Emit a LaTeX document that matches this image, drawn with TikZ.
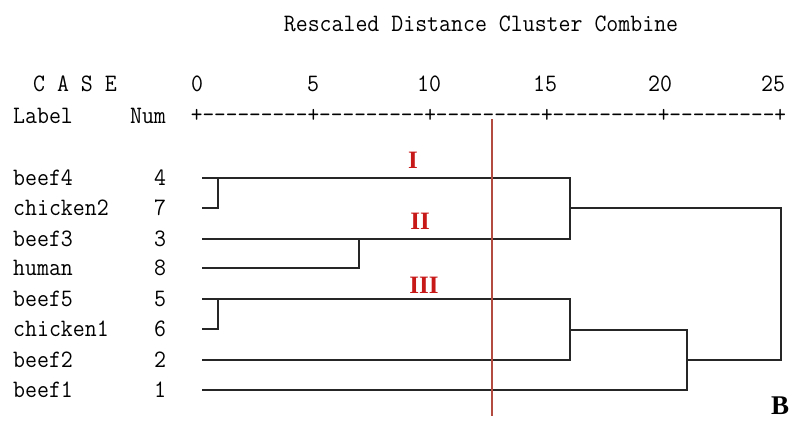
\documentclass[tikz,border=0pt]{standalone}
\usepackage{fontspec}
\setmainfont{Liberation Serif}
\definecolor{cutred}{RGB}{180,75,65}
\definecolor{grpred}{RGB}{200,25,25}
\begin{document}
\begin{tikzpicture}[x=1pt,y=-1pt,
    txt/.style={font=\ttfamily\fontsize{23.2}{24}\selectfont, inner sep=0pt, yscale=1.08},
    tree/.style={line width=1.3pt, black!85},
    grp/.style={font=\bfseries\fontsize{25}{26}\selectfont, text=grpred, inner sep=0pt}]
    \useasboundingbox (0,0) rectangle (792,421);
    % header
    \node[txt] (title) at (481,24) {Rescaled Distance Cluster Combine};
    \node[txt, anchor=west] (case) at (33,84) {C A S E};
    \node[txt, anchor=west] (label) at (13,116) {Label};
    \node[txt] (num) at (148,116) {Num};
    \foreach \t/\x in {0/197,5/313,10/429,15/545,20/660,25/773}
    \node[txt] (tick\t) at (\x,84) {\t};
    \node[txt, xscale=0.977] (axis) at (488.5,116) {+---------+---------+---------+---------+---------+};
    % cases
    \foreach \name/\n/\y [count=\i] in {beef4/4/178, chicken2/7/208, beef3/3/239,
        human/8/268, beef5/5/299, chicken1/6/329, beef2/2/360, beef1/1/390}
    {
        \node[txt, anchor=west] (lab\i) at (13,\y) {\name};
        \node[txt] (num\i) at (160,\y) {\n};
        \coordinate (leaf\i) at (202,\y);
    }
    % merge points
    \coordinate (a1) at (218,178);
    \coordinate (b1) at (359,239);
    \coordinate (e1) at (570,208);
    \coordinate (d1) at (218,299);
    \coordinate (f1) at (570,330);
    \coordinate (h1) at (687,360);
    \coordinate (root) at (781,284);
    \draw[tree] (leaf2) -| (a1);
    \draw[tree] (leaf4) -| (b1);
    \draw[tree] (leaf1) -| (e1) |- (leaf3);
    \draw[tree] (leaf6) -| (d1);
    \draw[tree] (leaf5) -| (f1) |- (leaf7);
    \draw[tree] (f1) -| (h1) |- (leaf8);
    \draw[tree] (e1) -| (root) |- (h1);
    % cut line
    \coordinate (cuttop) at (492,119);
    \coordinate (cutbot) at (492,416);
    \draw[cutred, line width=2.4pt] (cuttop) -- (cutbot);
    \node[grp] (g1) at (413,160) {I};
    \node[grp] (g2) at (420,221) {II};
    \node[grp] (g3) at (424,285) {III};
    \node[font=\bfseries\fontsize{27}{28}\selectfont, inner sep=0pt] (panel) at (780,406) {B};
\end{tikzpicture}
\end{document}
